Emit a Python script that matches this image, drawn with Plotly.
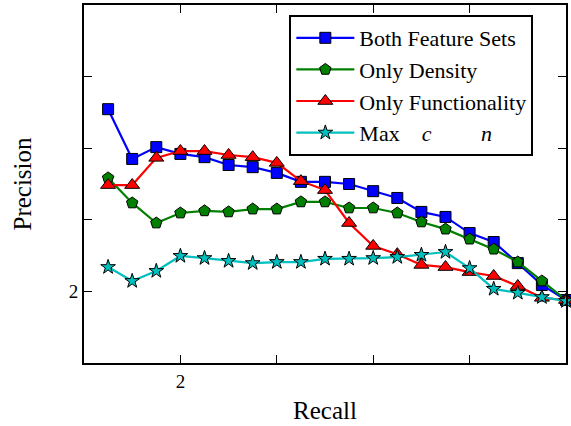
import plotly.graph_objects as go

recall = [0.05, 0.10, 0.15, 0.20, 0.25, 0.30, 0.35, 0.40, 0.45, 0.50,
          0.55, 0.60, 0.65, 0.70, 0.75, 0.80, 0.85, 0.90, 0.95, 1.00]

both = [0.709, 0.570, 0.603, 0.584, 0.575, 0.553, 0.547, 0.531, 0.506, 0.506,
        0.500, 0.480, 0.461, 0.422, 0.408, 0.363, 0.338, 0.279, 0.218, 0.176]
density = [0.517, 0.447, 0.391, 0.419, 0.425, 0.422, 0.430, 0.430, 0.450, 0.450,
           0.433, 0.433, 0.419, 0.394, 0.374, 0.346, 0.318, 0.282, 0.229, 0.176]
functionality = [0.497, 0.497, 0.573, 0.592, 0.592, 0.581, 0.575, 0.559, 0.508, 0.483,
                 0.391, 0.327, 0.304, 0.274, 0.268, 0.254, 0.243, 0.215, 0.182, 0.176]
maxcn = [0.268, 0.229, 0.257, 0.299, 0.293, 0.285, 0.279, 0.282, 0.282, 0.291,
         0.291, 0.293, 0.296, 0.302, 0.310, 0.265, 0.207, 0.196, 0.184, 0.173]

names = ["Both Feature Sets", "Only Density", "Only Functionality",
         "Max\u00a0\u00a0\u00a0\u00a0<i>c</i>\u00a0\u00a0\u00a0\u00a0\u00a0\u00a0\u00a0\u00a0\u00a0<i>n</i>"]

tick_vals = [0.2, 0.4, 0.6, 0.8]
tick_text = ["2", "", "", ""]

FONT = "Liberation Serif"

series = [
    (both, names[0], "#0000ff", "square", 11),
    (density, names[1], "#008000", "pentagon", 12),
    (functionality, names[2], "#ff0000", "triangle-up", 13),
    (maxcn, names[3], "#00bfbf", "star", 11),
]

fig = go.Figure()
for ys, nm, col, sym, sz in series:
    fig.add_trace(go.Scatter(
        x=recall, y=ys, name=nm, mode="lines+markers",
        line=dict(color=col, width=2.2),
        marker=dict(symbol=sym, size=sz, color=col,
                    line=dict(color="black", width=1)),
        cliponaxis=False,
    ))

axis_common = dict(
    showline=True, linecolor="black", linewidth=2, mirror="allticks",
    ticks="inside", ticklen=8, tickwidth=1, tickcolor="black",
    showgrid=False, zeroline=False,
    tickfont=dict(family=FONT, size=19, color="black"),
)

fig.update_layout(
    width=571, height=426,
    margin=dict(l=84, r=3, t=5, b=63),
    paper_bgcolor="white", plot_bgcolor="white",
    font=dict(family=FONT, color="black"),
    showlegend=True,
    legend=dict(
        x=0.426, y=0.972, xanchor="left", yanchor="top",
        bgcolor="white", bordercolor="black", borderwidth=2,
        font=dict(family=FONT, size=22, color="black"),
        tracegroupgap=0, itemwidth=58,
    ),
    xaxis=dict(range=[0, 1], tickvals=tick_vals, ticktext=tick_text,
               title=dict(text="Recall", font=dict(family=FONT, size=25), standoff=11),
               **axis_common),
    yaxis=dict(range=[0, 1], tickvals=tick_vals, ticktext=tick_text,
               title=dict(text="Precision", font=dict(family=FONT, size=25), standoff=30),
               **axis_common),
)

fig.write_html("out.html", config={"displayModeBar": False},
               post_script="document.body.style.margin='0';")
